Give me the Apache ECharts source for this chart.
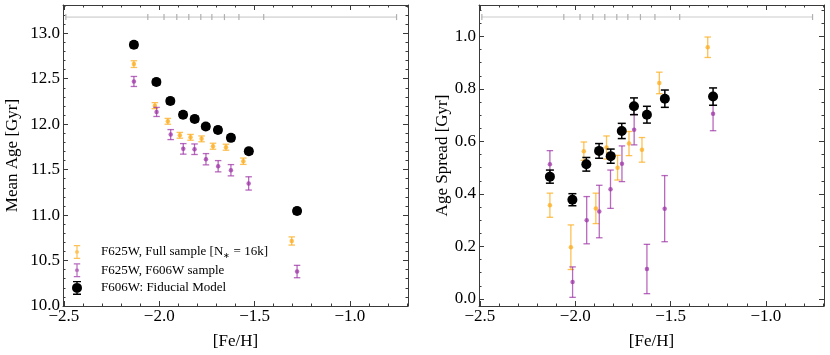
<!DOCTYPE html>
<html><head><meta charset="utf-8">
<script src="https://cdn.jsdelivr.net/npm/echarts@6/dist/echarts.min.js"></script>
<style>html,body{margin:0;padding:0;background:#fff}#c{width:830px;height:355px}</style>
</head><body><div id="c"></div>
<script>
// ---------- data ----------
const fehFull = [-2.133, -2.023, -1.955, -1.892, -1.836, -1.778, -1.718, -1.650, -1.559, -1.305];
const meanAgeFull = [12.660, 12.203, 12.031, 11.877, 11.855, 11.838, 11.757, 11.746, 11.592, 10.715];
const meanAgeFullErr = [0.037, 0.033, 0.032, 0.032, 0.032, 0.032, 0.033, 0.033, 0.035, 0.045];
const spreadFull = [0.357, 0.197, 0.563, 0.345, 0.577, 0.500, 0.592, 0.568, 0.823, 0.959];
const spreadFullErr = [0.046, 0.085, 0.035, 0.058, 0.044, 0.047, 0.046, 0.047, 0.041, 0.039];

const fehSub = [-2.133, -2.014, -1.940, -1.874, -1.815, -1.755, -1.691, -1.624, -1.531, -1.277];
const meanAgeSub = [12.469, 12.134, 11.885, 11.728, 11.724, 11.614, 11.537, 11.493, 11.348, 10.379];
const meanAgeSubErr = [0.055, 0.050, 0.055, 0.058, 0.058, 0.062, 0.062, 0.062, 0.073, 0.068];
const spreadSub = [0.513, 0.064, 0.300, 0.333, 0.418, 0.515, 0.645, 0.114, 0.344, 0.706];
const spreadSubErr = [0.052, 0.058, 0.090, 0.100, 0.073, 0.068, 0.058, 0.094, 0.126, 0.065];

const fehFid = [-2.133, -2.015, -1.942, -1.875, -1.814, -1.756, -1.692, -1.624, -1.530, -1.277];
const meanAgeFid = [12.872, 12.463, 12.254, 12.104, 12.057, 11.973, 11.936, 11.849, 11.702, 11.044];
const meanAgeFidErr = [0.03, 0.03, 0.03, 0.03, 0.03, 0.03, 0.03, 0.03, 0.03, 0.03];
const spreadFid = [0.466, 0.378, 0.513, 0.564, 0.544, 0.640, 0.734, 0.702, 0.763, 0.771];
const spreadFidErr = [0.025, 0.023, 0.026, 0.028, 0.027, 0.029, 0.032, 0.032, 0.033, 0.033];

const binEdges = [-2.49, -2.06, -1.975, -1.908, -1.845, -1.782, -1.724, -1.658, -1.582, -1.452, -0.755];
const rugLevelAge = 13.177;
const rugLevelSpread = 1.074;

const seriesNames = ['F625W, Full sample [N* = 16k]', 'F625W, F606W sample', 'F606W: Fiducial Model'];
const xTicks = [-2.5, -2.0, -1.5, -1.0];
const ageTicks = [10.0, 10.5, 11.0, 11.5, 12.0, 12.5, 13.0];
const spreadTicks = [0.0, 0.2, 0.4, 0.6, 0.8, 1.0];
const xRange = [-2.505, -0.695];
const ageRange = [10.0, 13.31];
const spreadRange = [-0.027, 1.12];

// ---------- helpers ----------
function minors(lo, hi, step, majors) {
  const out = [];
  const n = Math.round((hi - lo) / step);
  for (let i = 0; i <= n; i++) {
    const v = +(lo + i * step).toFixed(4);
    if (!majors.some(m => Math.abs(m - v) < 1e-6)) out.push(v);
  }
  return out;
}
const xMinor = minors(-2.5, -0.7, 0.1, xTicks);
const ageMinor = minors(10.0, 13.3, 0.1, ageTicks);
const spreadMinor = minors(0.0, 1.1, 0.05, spreadTicks);

const FONT = 'Liberation Serif';
const AXC = '#3a3a3a';
const fmt = v => (v < 0 ? '\u2212' : '') + Math.abs(v).toFixed(1);

function xAxes(grid) {
  const base = {type: 'value', gridIndex: grid, min: xRange[0], max: xRange[1],
    splitLine: {show: false}, axisLine: {onZero: false, lineStyle: {color: AXC, width: 1}}};
  return [
    Object.assign({}, base, {position: 'bottom',
      name: '[Fe/H]', nameLocation: 'middle', nameGap: 27,
      nameTextStyle: {fontFamily: FONT, fontSize: 17, color: '#000'},
      axisTick: {inside: true, length: 5, customValues: xTicks, lineStyle: {color: AXC}},
      axisLabel: {customValues: xTicks, formatter: fmt, margin: 2, fontFamily: FONT, fontSize: 17, color: '#000'}}),
    Object.assign({}, base, {position: 'top',
      axisTick: {inside: true, length: 5, customValues: xTicks, lineStyle: {color: AXC}},
      axisLabel: {show: false}}),
    Object.assign({}, base, {position: 'bottom', axisLine: {show: false, onZero: false},
      axisTick: {inside: true, length: 2.5, customValues: xMinor, lineStyle: {color: AXC}},
      axisLabel: {show: false}}),
    Object.assign({}, base, {position: 'top', axisLine: {show: false, onZero: false},
      axisTick: {inside: true, length: 2.5, customValues: xMinor, lineStyle: {color: AXC}},
      axisLabel: {show: false}})
  ];
}
function yAxes(grid, range, ticks, minor, name, gap) {
  const base = {type: 'value', gridIndex: grid, min: range[0], max: range[1],
    splitLine: {show: false}, axisLine: {show: true, onZero: false, lineStyle: {color: AXC, width: 1}}};
  return [
    Object.assign({}, base, {position: 'left',
      name: name, nameLocation: 'middle', nameGap: gap, nameRotate: 90,
      nameTextStyle: {fontFamily: FONT, fontSize: 17, color: '#000'},
      axisTick: {inside: true, length: 5, customValues: ticks, lineStyle: {color: AXC}},
      axisLabel: {customValues: ticks, formatter: fmt, margin: 3, fontFamily: FONT, fontSize: 17, color: '#000'}}),
    Object.assign({}, base, {position: 'right',
      axisTick: {inside: true, length: 5, customValues: ticks, lineStyle: {color: AXC}},
      axisLabel: {show: false}}),
    Object.assign({}, base, {position: 'left', axisLine: {show: false, onZero: false},
      axisTick: {inside: true, length: 2.5, customValues: minor, lineStyle: {color: AXC}},
      axisLabel: {show: false}}),
    Object.assign({}, base, {position: 'right', axisLine: {show: false, onZero: false},
      axisTick: {inside: true, length: 2.5, customValues: minor, lineStyle: {color: AXC}},
      axisLabel: {show: false}})
  ];
}

function errRender(capW, lw, color) {
  return function (params, api) {
    const x = api.value(0), lo = api.value(1), hi = api.value(2);
    const a = api.coord([x, lo]), b = api.coord([x, hi]);
    const h = capW / 2;
    const st = {stroke: color, lineWidth: lw};
    return {type: 'group', children: [
      {type: 'line', shape: {x1: a[0], y1: a[1], x2: b[0], y2: b[1]}, style: st},
      {type: 'line', shape: {x1: a[0] - h, y1: a[1], x2: a[0] + h, y2: a[1]}, style: st},
      {type: 'line', shape: {x1: b[0] - h, y1: b[1], x2: b[0] + h, y2: b[1]}, style: st}
    ]};
  };
}

const COL_FULL = 'rgba(252,172,28,0.75)';
const COL_SUB = 'rgba(155,48,165,0.72)';
const COL_FID = '#000000';

function addSet(series, axisIdx, name, feh, vals, errs, color, capW, lw, dotSize, z) {
  series.push({
    type: 'custom', name: name, xAxisIndex: axisIdx, yAxisIndex: axisIdx,
    itemStyle: {color: color, borderWidth: 0, opacity: 1},
    renderItem: errRender(capW, lw, color),
    encode: {x: 0, y: [1, 2]},
    data: feh.map((x, i) => [x, vals[i] - errs[i], vals[i] + errs[i]]),
    z: z, silent: true
  });
  series.push({
    type: 'scatter', name: name, xAxisIndex: axisIdx, yAxisIndex: axisIdx,
    symbol: 'circle', symbolSize: dotSize,
    itemStyle: {color: color, borderWidth: 0, opacity: 1},
    data: feh.map((x, i) => [x, vals[i]]),
    z: z + 1, silent: true
  });
}

const series = [];
[[0, rugLevelAge], [4, rugLevelSpread]].forEach(([ai, lvl]) => {
  series.push({
    type: 'line', name: 'bins', xAxisIndex: ai, yAxisIndex: ai,
    data: binEdges.map(e => [e, lvl]),
    symbol: 'rect', symbolSize: [1.2, 6], showSymbol: true,
    lineStyle: {color: '#dddddd', width: 1.6},
    itemStyle: {color: '#b0b0b0', opacity: 1}, z: 1, silent: true, animation: false
  });
});
addSet(series, 0, seriesNames[0], fehFull, meanAgeFull, meanAgeFullErr, COL_FULL, 6.5, 1.3, 4.5, 3);
addSet(series, 0, seriesNames[1], fehSub, meanAgeSub, meanAgeSubErr, COL_SUB, 6.5, 1.3, 4.5, 5);
addSet(series, 0, seriesNames[2], fehFid, meanAgeFid, meanAgeFidErr, COL_FID, 8, 1.5, 10, 7);
addSet(series, 4, seriesNames[0], fehFull, spreadFull, spreadFullErr, COL_FULL, 6.5, 1.3, 4.5, 3);
addSet(series, 4, seriesNames[1], fehSub, spreadSub, spreadSubErr, COL_SUB, 6.5, 1.3, 4.5, 5);
addSet(series, 4, seriesNames[2], fehFid, spreadFid, spreadFidErr, COL_FID, 8, 1.5, 10, 7);

const smallIcon = 'path://M0,0M10,14M1.8,0H8.2V1.2H1.8Z M4.4,0H5.6V14H4.4Z M1.8,12.8H8.2V14H1.8Z M6.9,7A1.9,1.9,0,1,1,3.1,7A1.9,1.9,0,1,1,6.9,7Z';
const bigIcon = 'path://M1,0H9V1.4H1Z M4.3,0H5.7V14H4.3Z M1,12.6H9V14H1Z M10,7A5,5,0,1,1,0,7A5,5,0,1,1,10,7Z';

const option = {
  animation: false,
  backgroundColor: '#fff',
  grid: [
    {left: 63, top: 5, width: 345, height: 302},
    {left: 479, top: 5, width: 345, height: 302}
  ],
  xAxis: [].concat(xAxes(0), xAxes(1)),
  yAxis: [].concat(
    yAxes(0, ageRange, ageTicks, ageMinor, 'Mean Age [Gyr]', 42),
    yAxes(1, spreadRange, spreadTicks, spreadMinor, 'Age Spread [Gyr]', 27)),
  legend: {
    orient: 'vertical', left: 72, top: 245, padding: 0,
    itemWidth: 10, itemHeight: 14, itemGap: 3.7,
    selectedMode: false,
    data: [
      {name: seriesNames[0], icon: smallIcon},
      {name: seriesNames[1], icon: smallIcon},
      {name: seriesNames[2], icon: bigIcon}
    ],
    formatter: n => n === seriesNames[0] ? 'F625W, Full sample [N{s|\u2217} = 16k]' : n,
    textStyle: {fontFamily: FONT, fontSize: 13, color: '#000', padding: [0, 0, 0, 14],
      rich: {s: {fontFamily: FONT, fontSize: 8, padding: [7, 0, 0, 0], color: '#000'}}}
  },
  series: series
};
const chart = echarts.init(document.getElementById('c'), null, {renderer: 'canvas'});
chart.setOption(option);
</script></body></html>
